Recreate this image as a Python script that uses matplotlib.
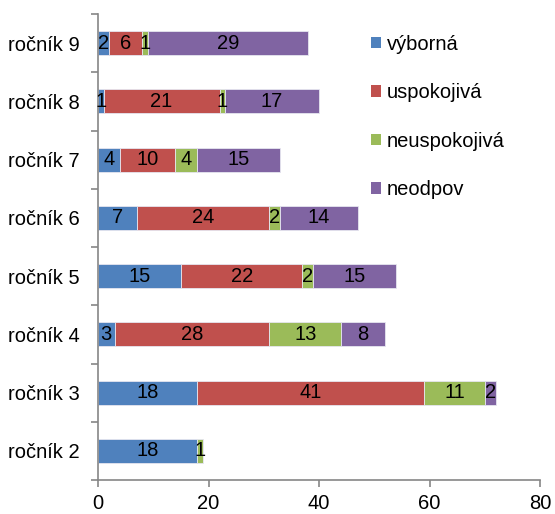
import matplotlib.pyplot as plt
import numpy as np
from matplotlib.patches import Patch

plt.rcParams['font.family'] = ['Liberation Sans', 'DejaVu Sans']

categories = ["ročník 2", "ročník 3", "ročník 4", "ročník 5",
              "ročník 6", "ročník 7", "ročník 8", "ročník 9"]
vyborna = [18, 18, 3, 15, 7, 4, 1, 2]
uspokojiva = [0, 41, 28, 22, 24, 10, 21, 6]
neuspokojiva = [1, 11, 13, 2, 2, 4, 1, 1]
neodpov = [0, 2, 8, 15, 14, 15, 17, 29]

series = [("výborná", vyborna, "#4F81BD"),
          ("uspokojivá", uspokojiva, "#C0504D"),
          ("neuspokojivá", neuspokojiva, "#9BBB59"),
          ("neodpov", neodpov, "#8064A2")]

fs = 14.5

fig = plt.figure(figsize=(5.55, 5.14), dpi=100)
ax = fig.add_axes([0.1766, 0.066, 0.7964, 0.9068])

y = np.arange(len(categories))
left = np.zeros(len(categories))
for name, vals, color in series:
    vals = np.array(vals)
    ax.barh(y, vals, left=left, height=0.41, color=color,
            edgecolor="#E6E6F0", linewidth=0.6)
    for yi, (l, v) in enumerate(zip(left, vals)):
        if v > 0:
            ax.text(l + v / 2, yi, str(v), ha="center", va="center",
                    fontsize=fs, color="black")
    left = left + vals

ax.set_xlim(0, 80)
ax.set_ylim(-0.5, len(categories) - 0.5)
ax.set_xticks([0, 20, 40, 60, 80])
ax.set_yticks(y)
ax.set_yticklabels(categories)
ax.set_yticks(np.arange(-0.5, len(categories), 1), minor=True)
ax.tick_params(axis="y", which="major", length=0, labelsize=fs, pad=13)
ax.tick_params(axis="y", which="minor", length=5, color="#868686", width=1.2)
ax.tick_params(axis="x", length=5, color="#868686", width=1.2, labelsize=fs, pad=5)

for s in ["top", "right"]:
    ax.spines[s].set_visible(False)
for s in ["left", "bottom"]:
    ax.spines[s].set_color("#868686")
    ax.spines[s].set_linewidth(1.2)

handles = [Patch(facecolor=c, edgecolor="none") for _, _, c in series]
fig.legend(handles, [n for n, _, _ in series], loc="upper left",
           bbox_to_anchor=(0.654, 0.948), frameon=False, fontsize=fs,
           handlelength=0.5, handleheight=0.5, handletextpad=0.3,
           labelspacing=1.46, borderaxespad=0)

fig.savefig("out.png", dpi=100)
